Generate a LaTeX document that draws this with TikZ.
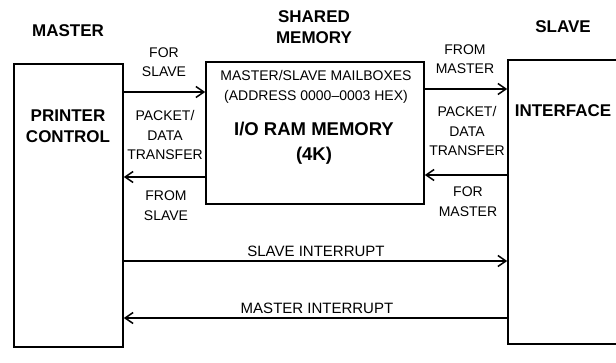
\documentclass[tikz,border=0pt]{standalone}
\usepackage{fontspec}
\setmainfont{Liberation Sans}
\usepackage{tikz}
\usetikzlibrary{arrows.meta}
\newcommand{\headtxt}{\fontsize{17}{21}\selectfont\bfseries}
\newcommand{\smalltxt}{\fontsize{14}{19.5}\selectfont}
\tikzset{
  unit/.style={draw, line width=1.6pt, rectangle, inner sep=0pt},
  lbl/.style={inner sep=0pt, align=center, font=\smalltxt},
  head/.style={inner sep=0pt, align=center, font=\headtxt},
  sig/.style={line width=1.5pt, -{Straight Barb[length=8pt,width=11pt,line width=1.5pt]}}
}

\begin{document}
\begin{tikzpicture}[x=1pt, y=-1pt]
  \clip (0,0) rectangle (616,362);

  % the three units
  \draw node[unit, minimum width=109pt, minimum height=283pt] (master) at (68.5,205.5) {};
  \draw node[unit, minimum width=218pt, minimum height=142pt] (shm) at (315,133) {};
  \draw node[unit, minimum width=124pt, minimum height=284pt] (slave) at (570,202) {};

  % headings
  \draw node[head] (hmaster) at (68,31) {MASTER};
  \draw node[head] (hshm) at (314,27.5) {SHARED\\MEMORY};
  \draw node[head] (hslave) at (563,27) {SLAVE};

  % text in the boxes
  \draw node[head] (tprinter) at (68,126.5) {PRINTER\\CONTROL};
  \draw node[head] (tiface) at (563,111) {INTERFACE};
  \draw node[lbl] (tmail) at (316,87) {MASTER/SLAVE MAILBOXES\\(ADDRESS 0000--0003 HEX)};
  \draw node[head, font=\fontsize{18.5}{25}\selectfont\bfseries] (tram) at (314,143) {I/O RAM MEMORY\\(4K)};

  % transfer labels
  \draw node[lbl] (forslave) at (164,62) {FOR\\SLAVE};
  \draw node[lbl] (frommaster) at (465,59) {FROM\\MASTER};
  \draw node[lbl] (pktl) at (165,135) {PACKET/\\DATA\\TRANSFER};
  \draw node[lbl] (pktr) at (467,131) {PACKET/\\DATA\\TRANSFER};
  \draw node[lbl] (fromslave) at (166,205.5) {FROM\\SLAVE};
  \draw node[lbl] (formaster) at (468,201.5) {FOR\\MASTER};
  \draw node[lbl, font=\fontsize{15}{19}\selectfont] (sint) at (316,251) {SLAVE INTERRUPT};
  \draw node[lbl, font=\fontsize{15}{19}\selectfont] (mint) at (317,308) {MASTER INTERRUPT};

  % connectors
  \draw[sig] (master.east |- 0,92) -- (shm.west |- 0,92);
  \draw[sig] (shm.west |- 0,177) -- (master.east |- 0,177);
  \draw[sig] (shm.east |- 0,89) -- (slave.west |- 0,89);
  \draw[sig] (slave.west |- 0,175) -- (shm.east |- 0,175);
  \draw[sig] (master.east |- 0,261) -- (slave.west |- 0,261);
  \draw[sig] (slave.west |- 0,318) -- (master.east |- 0,318);

\end{tikzpicture}
\end{document}
